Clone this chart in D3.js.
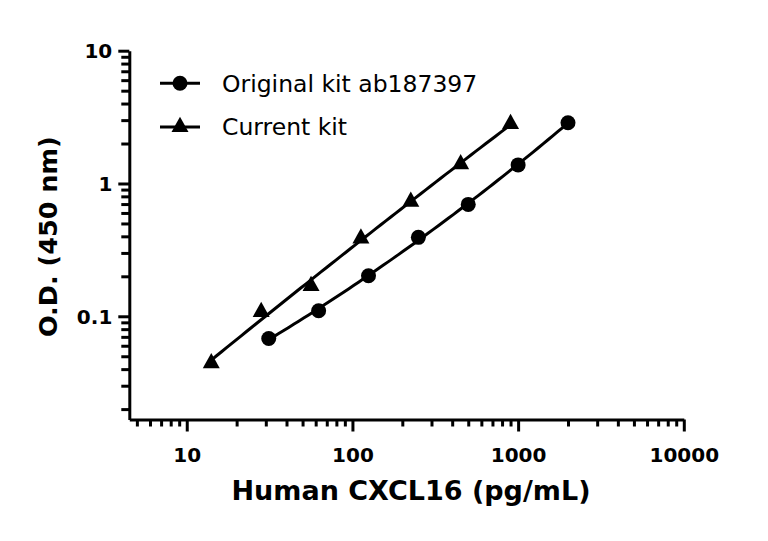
<!DOCTYPE html>
<html>
<head>
<meta charset="utf-8">
<script src="https://cdn.jsdelivr.net/npm/d3@7"></script>
<style>
  body { margin: 0; background: #fff; }
  svg { font-family: "DejaVu Sans", sans-serif; }
</style>
</head>
<body>
<script>
// data
const originalConc = [31.25, 62.5, 125, 250, 500, 1000, 2000];
const originalOD = [0.068, 0.11, 0.202, 0.393, 0.696, 1.38, 2.87];
const currentConc = [14.06, 28.13, 56.25, 112.5, 225, 450, 900];
const currentOD = [0.0443, 0.108, 0.169, 0.386, 0.729, 1.4, 2.81];
const xMajor = [10, 100, 1000, 10000];
const yMajor = [0.1, 1, 10];
const yMajorLabels = ["0.1", "1", "10"];
const seriesNames = ["Original kit ab187397", "Current kit"];

const width = 768,
  height = 541;
const plotLeft = 129.3,
  plotRight = 683.8,
  plotTop = 50.7,
  plotBottom = 419.5;

let svg, xScale, yScale;

const drawCanvas = () => {
  svg = d3
    .select("body")
    .append("svg")
    .attr("width", width)
    .attr("height", height);
};

const generateScales = () => {
  xScale = d3.scaleLog().domain([4.5, 10000]).range([plotLeft, plotRight]);
  yScale = d3.scaleLog().domain([0.0167, 10]).range([plotBottom, plotTop]);
};

// minor ticks 2..9 for each decade inside the domain
const minorTicks = (scale) => {
  const [lo, hi] = scale.domain();
  const out = [];
  for (let e = -3; e <= 4; e++) {
    for (let m = 2; m <= 9; m++) {
      const v = m * Math.pow(10, e);
      if (v >= lo && v <= hi) out.push(v);
    }
  }
  return out;
};

const generateAxis = () => {
  // x axis
  svg
    .append("g")
    .attr("class", "minor")
    .attr("transform", "translate(0," + plotBottom + ")")
    .call(d3.axisBottom(xScale).tickValues(minorTicks(xScale)).tickSize(7).tickFormat(""));

  svg
    .append("g")
    .attr("id", "x-axis")
    .attr("transform", "translate(0," + plotBottom + ")")
    .call(d3.axisBottom(xScale).tickValues(xMajor).tickSize(12).tickSizeOuter(0).tickPadding(16).tickFormat(d3.format("d")));

  // y axis
  svg
    .append("g")
    .attr("class", "minor")
    .attr("transform", "translate(" + plotLeft + ",0)")
    .call(d3.axisLeft(yScale).tickValues(minorTicks(yScale)).tickSize(8).tickFormat(""));

  svg
    .append("g")
    .attr("id", "y-axis")
    .attr("transform", "translate(" + plotLeft + ",0)")
    .call(
      d3.axisLeft(yScale).tickValues(yMajor).tickSize(11).tickSizeOuter(0).tickPadding(6)
        .tickFormat((d, i) => yMajorLabels[i])
    );

  svg.selectAll(".minor .domain").remove();
  svg.selectAll(".tick line").attr("stroke", "#000").attr("stroke-width", 3);
  svg.selectAll(".domain").attr("stroke", "#000").attr("stroke-width", 3);
  // the axis sets font-family="sans-serif" on its group, so override on the text
  svg
    .selectAll("#x-axis text, #y-axis text")
    .attr("fill", "#000")
    .style("font-family", '"DejaVu Sans", sans-serif')
    .style("font-size", "20px")
    .style("font-weight", "bold");
  svg.selectAll("#y-axis text").attr("dy", "0.36em");

  // axis titles
  svg
    .append("text")
    .attr("x", 411)
    .attr("y", 500)
    .attr("text-anchor", "middle")
    .style("font-size", "27px")
    .style("font-weight", "bold")
    .text("Human CXCL16 (pg/mL)");

  svg
    .append("text")
    .attr("transform", "translate(56.5,236.7) rotate(-90)")
    .attr("text-anchor", "middle")
    .style("font-size", "25.5px")
    .style("font-weight", "bold")
    .text("O.D. (450 nm)");
};

const triangle = (cx, cy, s) => {
  const h = s * 0.9;
  return `M${cx},${cy - (2 * h) / 3}L${cx + s / 2},${cy + h / 3}L${cx - s / 2},${cy + h / 3}Z`;
};

// quadratic least squares fit in log-log space
const fitCurve = (xs, ys) => {
  const lx = xs.map(Math.log10),
    ly = ys.map(Math.log10);
  const s = [0, 0, 0, 0, 0],
    t = [0, 0, 0];
  lx.forEach((x, i) => {
    for (let k = 0; k < 5; k++) s[k] += Math.pow(x, k);
    for (let k = 0; k < 3; k++) t[k] += Math.pow(x, k) * ly[i];
  });
  const A = [
    [s[0], s[1], s[2], t[0]],
    [s[1], s[2], s[3], t[1]],
    [s[2], s[3], s[4], t[2]],
  ];
  for (let c = 0; c < 3; c++) {
    for (let r = c + 1; r < 3; r++) {
      const f = A[r][c] / A[c][c];
      for (let k = c; k < 4; k++) A[r][k] -= f * A[c][k];
    }
  }
  const b = [0, 0, 0];
  for (let r = 2; r >= 0; r--) {
    let v = A[r][3];
    for (let k = r + 1; k < 3; k++) v -= A[r][k] * b[k];
    b[r] = v / A[r][r];
  }
  const lo = d3.min(lx),
    hi = d3.max(lx);
  return d3.range(61).map((i) => {
    const x = lo + ((hi - lo) * i) / 60;
    return [Math.pow(10, x), Math.pow(10, b[0] + b[1] * x + b[2] * x * x)];
  });
};

const drawSeries = () => {
  const line = d3
    .line()
    .x((d) => xScale(d[0]))
    .y((d) => yScale(d[1]));

  const original = originalConc.map((c, i) => [c, originalOD[i]]);
  const current = currentConc.map((c, i) => [c, currentOD[i]]);

  [fitCurve(originalConc, originalOD), fitCurve(currentConc, currentOD)].forEach((data) => {
    svg
      .append("path")
      .datum(data)
      .attr("d", line)
      .attr("fill", "none")
      .attr("stroke", "#000")
      .attr("stroke-width", 3);
  });

  svg
    .selectAll("circle.dot")
    .data(original)
    .enter()
    .append("circle")
    .attr("class", "dot")
    .attr("cx", (d) => xScale(d[0]))
    .attr("cy", (d) => yScale(d[1]))
    .attr("r", 7.5)
    .attr("fill", "#000");

  svg
    .selectAll("path.tri")
    .data(current)
    .enter()
    .append("path")
    .attr("class", "tri")
    .attr("d", (d) => triangle(xScale(d[0]), yScale(d[1]), 17))
    .attr("fill", "#000");
};

const drawLegend = () => {
  const legend = svg.append("g").attr("id", "legend");
  const rows = [83.3, 127];
  const baselines = [91.6, 135];
  rows.forEach((y, i) => {
    legend
      .append("line")
      .attr("x1", 160)
      .attr("x2", 200)
      .attr("y1", y)
      .attr("y2", y)
      .attr("stroke", "#000")
      .attr("stroke-width", 3);
    if (i === 0) {
      legend.append("circle").attr("cx", 180).attr("cy", y).attr("r", 7.5).attr("fill", "#000");
    } else {
      legend.append("path").attr("d", triangle(180, y, 17)).attr("fill", "#000");
    }
    legend
      .append("text")
      .attr("x", 222)
      .attr("y", baselines[i])
      .style("font-size", "23.5px")
      .text(seriesNames[i]);
  });
};

drawCanvas();
generateScales();
generateAxis();
drawSeries();
drawLegend();
</script>
</body>
</html>
